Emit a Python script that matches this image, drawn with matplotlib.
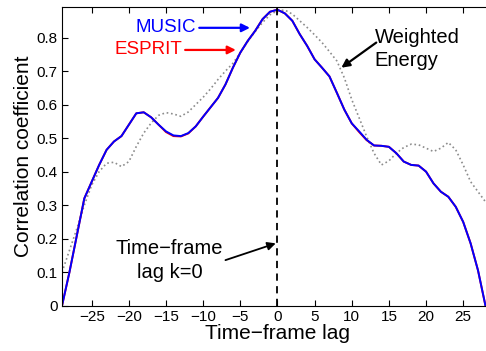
"""Cross-correlation of MUSIC / ESPRIT / weighted-energy tracks versus time-frame lag."""

import matplotlib

matplotlib.use("Agg")
import matplotlib.pyplot as plt
import numpy as np

plt.rcParams["font.family"] = ["Liberation Sans", "DejaVu Sans"]

lags = np.arange(-29, 29)

music = [
    0.0, 0.10, 0.21, 0.32, 0.37, 0.42, 0.465, 0.49, 0.506, 0.54,
    0.574, 0.577, 0.562, 0.54, 0.52, 0.508, 0.506, 0.515, 0.535, 0.564,
    0.592, 0.62, 0.66, 0.71, 0.755, 0.79, 0.82, 0.855, 0.877, 0.883,
    0.872, 0.85, 0.81, 0.775, 0.735, 0.71, 0.684, 0.635, 0.585, 0.544,
    0.52, 0.495, 0.478, 0.477, 0.474, 0.455, 0.43, 0.42, 0.418, 0.40,
    0.365, 0.34, 0.325, 0.295, 0.25, 0.186, 0.105, 0.0,
]

esprit = [
    0.0, 0.10, 0.21, 0.32, 0.37, 0.42, 0.465, 0.49, 0.506, 0.54,
    0.574, 0.577, 0.562, 0.54, 0.518, 0.506, 0.505, 0.514, 0.535, 0.564,
    0.592, 0.62, 0.66, 0.71, 0.755, 0.79, 0.82, 0.855, 0.877, 0.883,
    0.872, 0.85, 0.81, 0.775, 0.735, 0.71, 0.684, 0.635, 0.585, 0.544,
    0.518, 0.494, 0.478, 0.477, 0.474, 0.455, 0.43, 0.42, 0.418, 0.40,
    0.365, 0.34, 0.325, 0.295, 0.25, 0.186, 0.105, 0.0,
]

weighted_energy = [
    0.10, 0.165, 0.23, 0.30, 0.36, 0.40, 0.425, 0.428, 0.415, 0.43,
    0.475, 0.515, 0.545, 0.568, 0.576, 0.572, 0.565, 0.578, 0.60, 0.622,
    0.647, 0.675, 0.70, 0.723, 0.755, 0.788, 0.818, 0.845, 0.868, 0.88,
    0.882, 0.87, 0.85, 0.83, 0.808, 0.785, 0.758, 0.73, 0.68, 0.615,
    0.56, 0.505, 0.455, 0.42, 0.432, 0.455, 0.472, 0.482, 0.48, 0.47,
    0.46, 0.47, 0.487, 0.465, 0.42, 0.37, 0.34, 0.31,
]

x_ticks = np.arange(-25, 30, 5)
y_ticks = np.round(np.arange(0, 0.81, 0.1), 1)
y_tick_labels = ["0"] + [f"{v:.1f}" for v in y_ticks[1:]]

fig = plt.figure(figsize=(4.86, 3.51), dpi=100)
# axes extends slightly past the right edge, as in the cropped original
ax = fig.add_axes([0.1276, 0.129, 0.8866, 0.850])

ax.plot(lags, weighted_energy, color="0.55", linestyle=":", linewidth=1.2)
ax.plot(lags, esprit, color="red", linewidth=1.4)
ax.plot(lags, music, color="blue", linewidth=1.4)
ax.axvline(0, color="black", linestyle="--", linewidth=1.3, dashes=(4, 3))

ax.set_xlim(-29, 29)
ax.set_ylim(0, 0.89)
ax.set_xticks(x_ticks)
ax.set_yticks(y_ticks)
ax.set_yticklabels(y_tick_labels)
ax.tick_params(direction="in", top=True, right=True, labelsize=11, length=4, pad=3)
ax.set_xlabel("Time\u2212frame lag", fontsize=15, labelpad=0)
ax.set_ylabel("Correlation coefficient", fontsize=15, labelpad=3)

arrow = dict(arrowstyle="-|>", lw=1.6, mutation_scale=12)
ax.annotate("MUSIC", xy=(-3.7, 0.829), xytext=(-10.9, 0.829), color="blue",
            fontsize=13.5, ha="right", va="center",
            arrowprops=dict(arrow, color="blue", shrinkA=0, shrinkB=0))
ax.annotate("ESPRIT", xy=(-5.6, 0.763), xytext=(-12.8, 0.763), color="red",
            fontsize=13.5, ha="right", va="center",
            arrowprops=dict(arrow, color="red", shrinkA=0, shrinkB=0))
ax.annotate("", xy=(8.6, 0.71), xytext=(13.3, 0.785),
            arrowprops=dict(arrow, color="black", shrinkA=0, shrinkB=0))
ax.text(13.1, 0.766, "Weighted\nEnergy", fontsize=14.5, ha="left", va="center",
        linespacing=1.3)
ax.annotate("", xy=(-0.23, 0.186), xytext=(-7.0, 0.136),
            arrowprops=dict(arrow, color="black", lw=1.3, shrinkA=0, shrinkB=0))
ax.text(-14.5, 0.135, "Time\u2212frame\nlag k=0", fontsize=14.5, ha="center",
        va="center", linespacing=1.3)

fig.savefig("out.png", dpi=100)
